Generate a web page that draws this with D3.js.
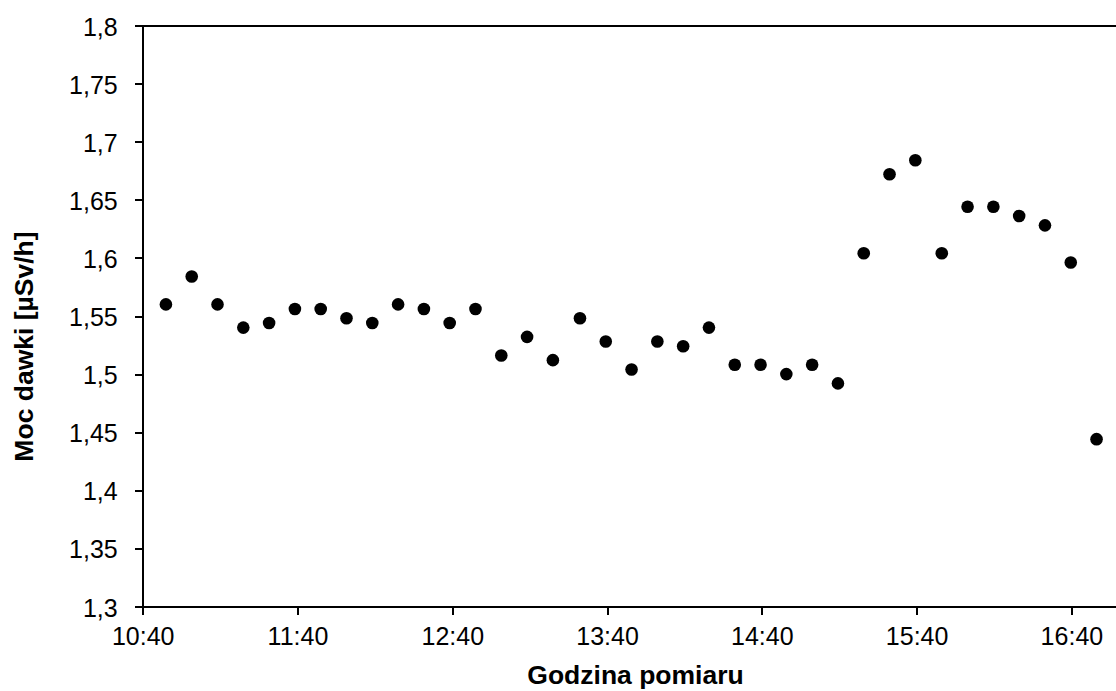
<!DOCTYPE html>
<html>
<head>
<meta charset="utf-8">
<script src="https://cdn.jsdelivr.net/npm/d3@7"></script>
<style>
  html, body { margin: 0; padding: 0; background: #fff; }
  svg { display: block; }
  .axis text { font-family: "Liberation Sans", Arial, sans-serif; font-size: 25px; fill: #000; }
  .axis path, .axis line { stroke: #000; stroke-width: 2px; shape-rendering: crispEdges; }
  .title { font-family: "Liberation Sans", Arial, sans-serif; font-size: 26.5px; font-weight: bold; fill: #000; }
</style>
</head>
<body>
<svg id="chart" width="1116" height="691"></svg>
<script>
// Measurement times (HH:MM:SS)
const times = [
  "10:49:00", "10:59:00", "11:09:00", "11:19:00", "11:29:00", "11:39:00",
  "11:49:00", "11:59:00", "12:09:00", "12:19:00", "12:29:00", "12:39:00",
  "12:49:00", "12:59:00", "13:09:00", "13:19:00", "13:29:30", "13:39:30",
  "13:49:30", "13:59:30", "14:09:30", "14:19:30", "14:29:30", "14:39:30",
  "14:49:30", "14:59:30", "15:09:30", "15:19:30", "15:29:30", "15:39:30",
  "15:49:45", "15:59:45", "16:09:45", "16:19:45", "16:29:45", "16:39:45",
  "16:49:45"
];

// Dose rate readings [µSv/h]
const doseRate = [
  1.560, 1.584, 1.560, 1.540, 1.544, 1.556,
  1.556, 1.548, 1.544, 1.560, 1.556, 1.544,
  1.556, 1.516, 1.532, 1.512, 1.548, 1.528,
  1.504, 1.528, 1.524, 1.540, 1.508, 1.508,
  1.500, 1.508, 1.492, 1.604, 1.672, 1.684,
  1.604, 1.644, 1.644, 1.636, 1.628, 1.596,
  1.444
];

// Axis ticks
const xTickLabels = ["10:40", "11:40", "12:40", "13:40", "14:40", "15:40", "16:40"];
const yTickValues = [1.3, 1.35, 1.4, 1.45, 1.5, 1.55, 1.6, 1.65, 1.7, 1.75, 1.8];
const xDomain = ["10:40", "17:00"];
const yDomain = [1.3, 1.8];

const parseHMS = d3.timeParse("%H:%M:%S");
const parseHM = d3.timeParse("%H:%M");
const fmtHM = d3.timeFormat("%-H:%M");

const data = times.map((t, i) => ({ t: parseHMS(t), v: doseRate[i] }));

const plot = { left: 142.7, top: 25.5, right: 1123, bottom: 606.5 };
const svg = d3.select("#chart");

const x = d3.scaleTime()
  .domain(xDomain.map(parseHM))
  .range([plot.left, plot.right]);

const y = d3.scaleLinear()
  .domain(yDomain)
  .range([plot.bottom, plot.top]);

// Plot frame (top and right edges)
svg.append("path")
  .attr("d", `M${plot.left},${plot.top}H${plot.right}V${plot.bottom}`)
  .attr("fill", "none")
  .attr("stroke", "#000")
  .attr("stroke-width", 2)
  .attr("shape-rendering", "crispEdges");

// Y axis
const yAxis = d3.axisLeft(y)
  .tickValues(yTickValues)
  .tickSize(8)
  .tickSizeOuter(0)
  .tickPadding(17)
  .tickFormat(d => String(+d.toFixed(2)).replace(".", ","));

svg.append("g")
  .attr("class", "axis")
  .attr("transform", `translate(${plot.left},0)`)
  .call(yAxis)
  .call(g => g.selectAll("text").attr("dy", "0.38em"));

// X axis
const xAxis = d3.axisBottom(x)
  .tickValues(xTickLabels.map(parseHM))
  .tickSize(8)
  .tickSizeOuter(0)
  .tickPadding(13)
  .tickFormat(fmtHM);

svg.append("g")
  .attr("class", "axis")
  .attr("transform", `translate(0,${plot.bottom})`)
  .call(xAxis);

// Data points
svg.append("g")
  .selectAll("circle")
  .data(data)
  .join("circle")
  .attr("cx", d => x(d.t))
  .attr("cy", d => y(d.v))
  .attr("r", 6.3)
  .attr("fill", "#000");

// Axis titles
svg.append("text")
  .attr("class", "title")
  .attr("x", 635.5)
  .attr("y", 684)
  .attr("text-anchor", "middle")
  .text("Godzina pomiaru");

svg.append("text")
  .attr("class", "title")
  .attr("transform", "translate(33,346.5) rotate(-90)")
  .attr("text-anchor", "middle")
  .text("Moc dawki [µSv/h]");
</script>
</body>
</html>
